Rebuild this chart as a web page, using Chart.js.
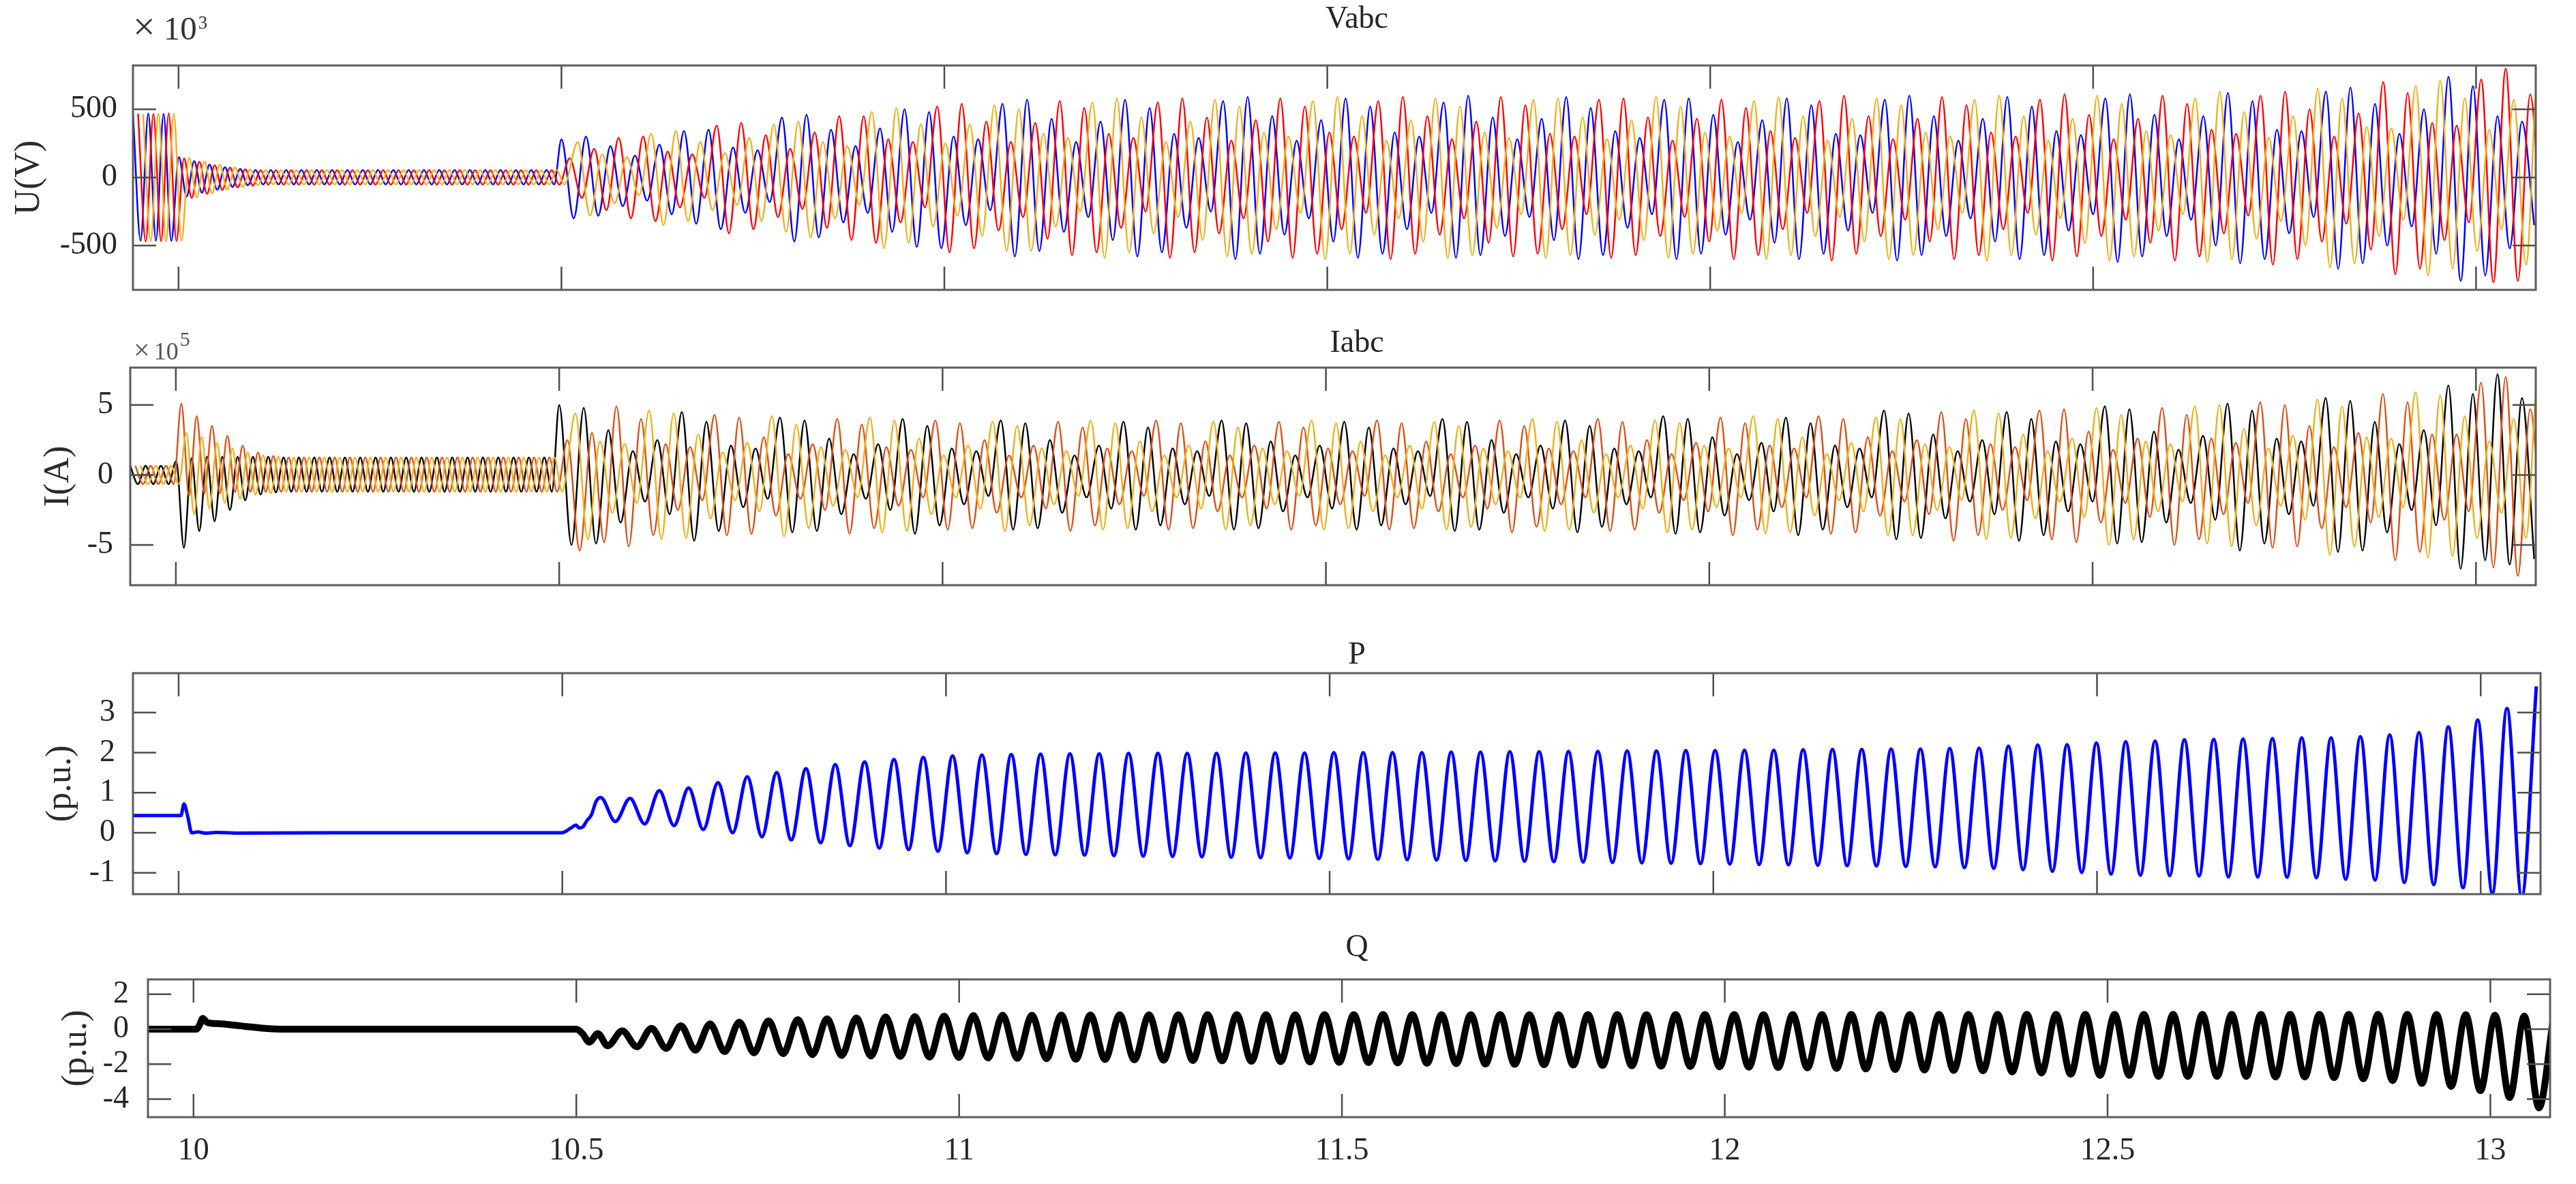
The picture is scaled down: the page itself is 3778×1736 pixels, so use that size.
<!DOCTYPE html>
<html>
<head>
<meta charset="utf-8">
<title>Vabc / Iabc / P / Q</title>
<script src="https://cdn.jsdelivr.net/npm/chart.js@4.4.1/dist/chart.umd.min.js"></script>
<style>
  html, body { margin: 0; padding: 0; background: #ffffff; }
  #wrap { position: relative; width: 3778px; height: 1736px; overflow: hidden; background: #ffffff; }
  #wrap canvas { position: absolute; left: 0; top: 0; }
</style>
</head>
<body>
<div id="wrap">
  <canvas id="chartV" width="3778" height="1736"></canvas>
  <canvas id="chartI" width="3778" height="1736"></canvas>
  <canvas id="chartP" width="3778" height="1736"></canvas>
  <canvas id="chartQ" width="3778" height="1736"></canvas>
</div>
<script>
"use strict";

// ---- axes ----
const xTicks = [10, 10.5, 11, 11.5, 12, 12.5, 13];
const xMin = 9.9405;
const xMax = 13.078;
const vTicks = [-500, 0, 500];
const iTicks = [-5, 0, 5];
const pTicks = [-1, 0, 1, 2, 3];
const qTicks = [-4, -2, 0, 2];

// ---- 50 Hz part, 9.94 s .. 10.5 s : peak, trough, peak, ... (10 ms apart) ----
const t50Start = 9.9405;
const half50 = 0.01;
const shift50 = [0, 0.0067, 0.0133];

// Vabc in kV (x10^3)
const vA50 = [470,-465, 470,-465, 468,-466, 150,-140, 120,-112, 95,-90, 75,-70, 62,-58,
  55,-52, 55,-52, 55,-52, 55,-52, 55,-52, 55,-52, 55,-52, 55,-52, 55,-52, 55,-52,
  55,-52, 55,-52, 55,-52, 55,-52, 55,-52, 55,-52, 55,-52, 55,-52, 55,-52, 55,-52];
const vB50 = [468,-470, 466,-468, 470,-466, 140,-150, 115,-120, 90,-92, 72,-72, 60,-60,
  54,-53, 54,-53, 54,-53, 54,-53, 54,-53, 54,-53, 54,-53, 54,-53, 54,-53, 54,-53,
  54,-53, 54,-53, 54,-53, 54,-53, 54,-53, 54,-53, 54,-53, 54,-53, 54,-53, 54,-53];
const vC50 = [466,-468, 470,-470, 468,-465, 145,-145, 118,-115, 92,-88, 74,-70, 60,-57,
  55,-52, 55,-52, 55,-52, 55,-52, 55,-52, 55,-52, 55,-52, 55,-52, 55,-52, 55,-52,
  55,-52, 55,-52, 55,-52, 55,-52, 55,-52, 55,-52, 55,-52, 55,-52, 55,-52, 55,-52];

// Iabc in x10^5 A
const iA50 = [0.65,-0.65, 0.65,-0.65, 0.65,-0.65, 1.0,-5.2, 1.2,-4.0, 1.3,-3.3, 1.3,-2.5, 1.3,-1.8, 1.3,-1.4, 1.3,-1.25,
  1.25,-1.2, 1.25,-1.2, 1.25,-1.2, 1.25,-1.2, 1.25,-1.2, 1.25,-1.2, 1.25,-1.2, 1.25,-1.2, 1.25,-1.2,
  1.25,-1.2, 1.25,-1.2, 1.25,-1.2, 1.25,-1.2, 1.25,-1.2, 1.25,-1.2, 1.25,-1.2, 1.25,-1.2, 1.25,-1.2];
const iB50 = [0.65,-0.65, 0.65,-0.65, 0.65,-0.65, 5.1,-1.5, 4.2,-1.3, 3.5,-1.3, 2.8,-1.2, 2.1,-1.2, 1.6,-1.2, 1.35,-1.2,
  1.25,-1.2, 1.25,-1.2, 1.25,-1.2, 1.25,-1.2, 1.25,-1.2, 1.25,-1.2, 1.25,-1.2, 1.25,-1.2, 1.25,-1.2,
  1.25,-1.2, 1.25,-1.2, 1.25,-1.2, 1.25,-1.2, 1.25,-1.2, 1.25,-1.2, 1.25,-1.2, 1.25,-1.2, 1.25,-1.2];
const iC50 = [0.65,-0.65, 0.65,-0.65, 0.65,-0.65, 3.0,-2.8, 2.7,-2.4, 2.3,-2.0, 1.9,-1.7, 1.6,-1.4, 1.4,-1.3, 1.3,-1.2,
  1.25,-1.2, 1.25,-1.2, 1.25,-1.2, 1.25,-1.2, 1.25,-1.2, 1.25,-1.2, 1.25,-1.2, 1.25,-1.2, 1.25,-1.2,
  1.25,-1.2, 1.25,-1.2, 1.25,-1.2, 1.25,-1.2, 1.25,-1.2, 1.25,-1.2, 1.25,-1.2, 1.25,-1.2, 1.25,-1.2];

// ---- oscillation after 10.5 s : peak, trough, ... (16 ms apart) ----
const tSubStart = 10.5;
const halfSub = 0.016;
const shiftSub = [0, 0.0107, 0.0213];

const vAsub = [280,-300, 300,-280, 230,-210, 160,-170, 240,-270, 340,-340, 350,-380, 220,-260, 200,-180,
  440,-470, 460,-440, 350,-330, 230,-260, 360,-400, 500,-510, 480,-520, 300,-350, 280,-240,
  540,-580, 570,-540, 430,-400, 260,-290, 410,-460, 570,-580, 510,-550, 320,-370, 290,-250,
  560,-600, 590,-560, 450,-420, 270,-300, 420,-470, 580,-590, 520,-560, 330,-380, 300,-260,
  550,-590, 600,-570, 440,-430, 280,-290, 430,-460, 590,-600, 510,-570, 340,-370, 290,-270,
  570,-600, 580,-560, 460,-420, 260,-310, 420,-480, 580,-600, 530,-560, 320,-390, 310,-260,
  570,-610, 600,-570, 450,-430, 270,-300, 430,-470, 590,-600, 520,-570,
  340,-390, 310,-270, 580,-620, 610,-580, 460,-430, 280,-310, 450,-500, 620,-630, 560,-600, 350,-410,
  340,-290, 630,-670, 660,-630, 540,-500, 320,-360, 500,-560, 740,-760, 670,-720, 450,-520, 410,-350];
const vBsub = [140,-150, 210,-240, 290,-300, 300,-320, 190,-220, 170,-150, 380,-410, 400,-380, 310,-290,
  210,-230, 330,-370, 450,-460, 450,-480, 280,-330, 260,-220, 520,-550, 540,-520, 410,-390,
  260,-290, 400,-450, 560,-570, 510,-550, 320,-370, 290,-250, 550,-590, 580,-550, 440,-410,
  270,-300, 420,-470, 580,-590, 520,-560, 330,-380, 300,-260, 560,-600, 590,-560, 450,-420,
  280,-300, 410,-480, 590,-580, 530,-560, 320,-380, 300,-270, 570,-590, 580,-570, 440,-430,
  270,-290, 430,-470, 570,-600, 510,-570, 340,-380, 290,-260, 560,-610, 600,-560, 450,-430,
  280,-310, 430,-470, 590,-600, 530,-570, 330,-380, 300,-260, 570,-610,
  610,-580, 460,-430, 280,-310, 430,-480, 600,-610, 540,-580, 350,-410, 320,-280, 600,-640, 630,-600,
  500,-470, 300,-340, 470,-530, 700,-710, 620,-670, 400,-460, 380,-330, 720,-770, 800,-760, 610,-570];
const vCsub = [260,-280, 170,-190, 150,-130, 320,-350, 340,-320, 260,-240, 180,-200, 290,-320, 390,-400,
  410,-440, 260,-300, 230,-200, 480,-520, 510,-480, 390,-360, 250,-280, 390,-430, 530,-540,
  500,-540, 320,-360, 290,-250, 550,-590, 580,-550, 440,-410, 260,-290, 410,-460, 570,-580,
  520,-560, 330,-380, 300,-260, 560,-600, 590,-560, 450,-420, 270,-300, 420,-470, 580,-590,
  520,-570, 330,-370, 290,-270, 570,-590, 580,-570, 440,-420, 280,-310, 420,-460, 590,-590,
  520,-560, 330,-390, 300,-260, 560,-600, 590,-570, 450,-430, 270,-290, 430,-470, 580,-600,
  530,-570, 330,-380, 300,-260, 570,-610, 600,-570, 450,-420, 270,-300,
  430,-480, 600,-610, 540,-580, 340,-390, 310,-270, 580,-620, 630,-600, 480,-450, 290,-320, 450,-500,
  650,-660, 580,-630, 370,-430, 360,-310, 670,-720, 710,-670, 580,-540, 350,-380, 570,-640, 790,-800];

const iAsub = [5.0,-5.0, 4.8,-4.9, 3.2,-3.4, 1.7,-1.9, 2.5,-2.8, 4.5,-4.7, 3.8,-4.0, 2.1,-2.3, 1.9,-1.7,
  4.1,-4.1, 3.9,-4.0, 2.6,-2.8, 1.5,-1.7, 2.2,-2.5, 4.0,-4.2, 3.5,-3.6, 1.9,-2.1, 1.7,-1.5,
  3.9,-3.9, 3.7,-3.8, 2.5,-2.7, 1.4,-1.6, 2.1,-2.4, 3.8,-3.9, 3.4,-3.6, 1.9,-2.1, 1.7,-1.5,
  3.9,-3.9, 3.7,-3.8, 2.4,-2.6, 1.4,-1.6, 2.1,-2.4, 3.8,-3.9, 3.4,-3.6, 1.9,-2.1, 1.7,-1.5,
  4.0,-4.0, 3.8,-3.9, 2.5,-2.7, 1.5,-1.6, 2.1,-2.4, 3.9,-4.1, 3.5,-3.7, 1.9,-2.1, 1.7,-1.6,
  4.2,-4.2, 4.0,-4.1, 2.7,-2.9, 1.5,-1.8, 2.3,-2.6, 4.1,-4.3, 3.7,-3.9, 2.1,-2.3, 1.9,-1.6,
  4.6,-4.6, 4.4,-4.5, 2.9,-3.1, 1.7,-1.9, 2.5,-2.8, 4.5,-4.7, 4.0,-4.3,
  2.4,-2.6, 2.2,-1.9, 4.9,-4.9, 4.7,-4.8, 3.1,-3.4, 1.8,-2.0, 2.8,-3.2, 5.1,-5.4, 4.6,-4.9, 2.6,-2.8,
  2.4,-2.2, 5.5,-5.5, 5.3,-5.4, 3.8,-4.1, 2.2,-2.5, 3.2,-3.6, 6.4,-6.7, 5.8,-6.1, 7.2,-6.4, 5.5,-6.0];
const iBsub = [2.5,-5.4, 3.0,-4.8, 4.9,-5.1, 4.0,-4.3, 2.2,-2.5, 2.0,-1.8, 4.3,-4.3, 4.1,-4.2, 2.7,-2.9,
  1.5,-1.7, 2.2,-2.5, 4.0,-4.2, 3.6,-3.8, 2.0,-2.2, 1.8,-1.6, 3.9,-3.9, 3.7,-3.8, 2.5,-2.7,
  1.4,-1.6, 2.1,-2.4, 3.8,-4.0, 3.4,-3.6, 1.9,-2.1, 1.7,-1.5, 3.9,-3.9, 3.7,-3.8, 2.4,-2.6,
  1.4,-1.6, 2.1,-2.4, 3.8,-3.9, 3.4,-3.6, 1.9,-2.1, 1.7,-1.5, 3.9,-3.9, 3.7,-3.8, 2.4,-2.6,
  1.5,-1.6, 2.1,-2.4, 3.9,-4.1, 3.5,-3.7, 1.9,-2.1, 1.7,-1.6, 4.0,-4.0, 3.8,-3.9, 2.5,-2.7,
  1.5,-1.8, 2.3,-2.6, 4.1,-4.3, 3.7,-3.9, 2.1,-2.3, 1.9,-1.6, 4.2,-4.2, 4.0,-4.1, 2.7,-2.9,
  1.7,-1.9, 2.5,-2.8, 4.5,-4.7, 4.0,-4.3, 2.2,-2.5, 2.0,-1.8, 4.6,-4.6,
  4.7,-4.8, 3.1,-3.4, 1.8,-2.0, 2.6,-3.0, 4.8,-5.0, 4.3,-4.6, 2.6,-2.8, 2.3,-2.0, 5.2,-5.2, 5.0,-5.1,
  3.5,-3.8, 2.0,-2.3, 3.0,-3.4, 5.8,-6.1, 5.2,-5.5, 2.9,-3.2, 2.9,-2.6, 6.6,-6.6, 7.0,-7.2, 4.7,-5.0];
const iCsub = [4.4,-4.6, 2.4,-2.7, 2.2,-2.0, 4.6,-4.6, 4.4,-4.5, 2.9,-3.1, 1.6,-1.8, 2.3,-2.6, 4.2,-4.4,
  3.6,-3.8, 2.0,-2.2, 1.8,-1.6, 4.1,-4.1, 3.9,-4.0, 2.6,-2.8, 1.4,-1.6, 2.1,-2.4, 3.8,-4.0,
  3.5,-3.6, 1.9,-2.1, 1.7,-1.5, 3.9,-3.9, 3.7,-3.8, 2.4,-2.6, 1.4,-1.6, 2.1,-2.4, 3.8,-3.9,
  3.4,-3.6, 1.9,-2.1, 1.7,-1.5, 3.9,-3.9, 3.7,-3.8, 2.4,-2.6, 1.4,-1.6, 2.1,-2.4, 3.8,-3.9,
  3.5,-3.7, 1.9,-2.1, 1.7,-1.6, 4.0,-4.0, 3.8,-3.9, 2.5,-2.7, 1.5,-1.6, 2.1,-2.4, 3.9,-4.1,
  3.7,-3.9, 2.1,-2.3, 1.9,-1.6, 4.2,-4.2, 4.0,-4.1, 2.7,-2.9, 1.5,-1.8, 2.3,-2.6, 4.1,-4.3,
  4.0,-4.3, 2.2,-2.5, 2.0,-1.8, 4.6,-4.6, 4.4,-4.5, 2.9,-3.1, 1.7,-1.9,
  2.6,-3.0, 4.8,-5.0, 4.3,-4.6, 2.4,-2.6, 2.2,-1.9, 4.9,-4.9, 5.0,-5.1, 3.3,-3.6, 1.9,-2.2, 2.8,-3.2,
  5.4,-5.7, 4.9,-5.1, 2.7,-3.0, 2.6,-2.3, 5.9,-5.9, 5.7,-5.8, 4.2,-4.5, 2.4,-2.7, 4.0,-4.5, 7.2,-7.6];

// ---- P (p.u.) ----
const pEarlyT = [9.94, 10.003, 10.007, 10.012, 10.017, 10.025, 10.035, 10.05, 10.08, 10.2, 10.35, 10.5,
  10.505, 10.512, 10.518, 10.522, 10.527, 10.532, 10.538, 10.544];
const pEarlyV = [0.43, 0.43, 0.72, 0.4, 0.0, 0.02, -0.01, 0.01, -0.01, 0.0, 0.0, 0.0,
  0.04, 0.13, 0.19, 0.12, 0.15, 0.3, 0.45, 0.78];
const pStart = 10.55;
const pPeriod = 0.03822;
const pPeaks = [0.88, 0.86, 1.05, 1.12, 1.25, 1.4, 1.5, 1.6, 1.7, 1.77, 1.83, 1.88, 1.92, 1.94,
  1.95, 1.96, 1.97, 1.97, 1.98, 1.98, 1.98, 1.98, 1.99, 1.99, 1.99, 2.0, 2.0, 2.0, 2.0, 2.01, 2.01,
  2.02, 2.02, 2.03, 2.03, 2.04, 2.04, 2.05, 2.05, 2.06, 2.06, 2.07, 2.08, 2.08, 2.09, 2.09, 2.10,
  2.11, 2.16, 2.19, 2.20, 2.24, 2.27, 2.29, 2.32, 2.33, 2.34, 2.35, 2.37, 2.37, 2.40, 2.44, 2.50,
  2.64, 2.81, 3.10, 3.65];
const pTroughs = [0.28, 0.22, 0.18, 0.08, 0.0, -0.1, -0.18, -0.25, -0.32, -0.38, -0.42, -0.46, -0.5, -0.52, -0.54,
  -0.55, -0.56, -0.57, -0.58, -0.59, -0.6, -0.61, -0.62, -0.63, -0.64, -0.65, -0.66, -0.67, -0.68, -0.69, -0.7,
  -0.71, -0.72, -0.73, -0.74, -0.75, -0.76, -0.77, -0.78, -0.79, -0.8, -0.81, -0.82, -0.83, -0.84, -0.85, -0.87,
  -0.89, -0.92, -0.96, -0.99, -1.03, -1.06, -1.07, -1.08, -1.10, -1.10, -1.11, -1.12, -1.16, -1.18, -1.24,
  -1.29, -1.37, -1.51, -1.6];

// ---- Q (p.u.) ----
const qEarlyT = [9.94, 10.004, 10.008, 10.012, 10.018, 10.03, 10.05, 10.07, 10.09, 10.12, 10.3, 10.5,
  10.508, 10.517, 10.528];
const qEarlyV = [0.0, 0.0, 0.25, 0.62, 0.38, 0.32, 0.25, 0.15, 0.06, 0.0, 0.0, 0.0,
  -0.25, -0.74, -0.25];
const qStart = 10.56;
const qPeriod = 0.03822;
const qPeaks = [-0.1, 0.05, 0.2, 0.3, 0.4, 0.48, 0.55, 0.6, 0.65, 0.7, 0.72, 0.75, 0.78, 0.8,
  0.8, 0.81, 0.81, 0.82, 0.82, 0.82, 0.83, 0.83, 0.83, 0.82, 0.83, 0.83, 0.84, 0.83, 0.83, 0.83,
  0.84, 0.83, 0.83, 0.84, 0.84, 0.83, 0.84, 0.84, 0.84, 0.83, 0.84, 0.84, 0.85, 0.84, 0.84, 0.85,
  0.85, 0.85, 0.85, 0.85, 0.85, 0.85, 0.85, 0.85, 0.85, 0.85, 0.85, 0.85, 0.85, 0.85, 0.85, 0.85,
  0.84, 0.83, 0.8, 0.75, 0.7];
const qTroughs = [-0.95, -1.0, -1.1, -1.2, -1.28, -1.35, -1.4, -1.45, -1.5, -1.53, -1.56, -1.6, -1.62, -1.65,
  -1.67, -1.69, -1.71, -1.73, -1.75, -1.77, -1.79, -1.81, -1.83, -1.85, -1.87, -1.89, -1.91, -1.93, -1.95,
  -1.97, -1.99, -2.01, -2.03, -2.05, -2.07, -2.09, -2.11, -2.13, -2.15, -2.17, -2.19, -2.21, -2.24, -2.27,
  -2.3, -2.33, -2.36,
  -2.38, -2.44, -2.5, -2.57, -2.64, -2.64, -2.7, -2.7, -2.7, -2.7, -2.73, -2.73, -2.77, -2.83, -2.94,
  -3.1, -3.27, -3.52, -3.91, -4.5];

// ---- helpers ----
const serif = "'Liberation Serif', 'Times New Roman', Times, serif";

function alternating(start, half, values) {
    return values.map((v, i) => ({x: start + i * half, y: v}));
}

function phase(pre, sub, k) {
    return alternating(t50Start + shift50[k], half50, pre)
        .concat(alternating(tSubStart + shiftSub[k], halfSub, sub));
}

function pSeries() {
    let pts = pEarlyT.map((t, i) => ({x: t, y: pEarlyV[i]}));
    for (let k = 0; k < pPeaks.length; k++) {
        pts.push({x: pStart + k * pPeriod, y: pPeaks[k]});
        if (k < pTroughs.length) pts.push({x: pStart + (k + 0.5) * pPeriod, y: pTroughs[k]});
    }
    return pts;
}

function qSeries() {
    let pts = qEarlyT.map((t, i) => ({x: t, y: qEarlyV[i]}));
    for (let k = 0; k < qPeaks.length; k++) {
        pts.push({x: qStart + (k - 0.5) * qPeriod, y: qTroughs[k]});
        pts.push({x: qStart + k * qPeriod, y: qPeaks[k]});
    }
    return pts;
}

function line(data, color, width) {
    return {
        data: data,
        borderColor: color,
        borderWidth: width,
        pointRadius: 0,
        fill: false,
        cubicInterpolationMode: 'monotone',
        capBezierPoints: false,
        clip: 0
    };
}

// box, inward ticks on all four sides, panel title and the x10^n note
const framePlugin = {
    id: 'frame',
    afterDatasetsDraw(chart, args, opts) {
        const ctx = chart.ctx;
        const a = chart.chartArea;
        const xs = chart.scales.x;
        const ys = chart.scales.y;
        ctx.save();
        ctx.lineWidth = 2.5;
        ctx.strokeStyle = '#4d4d4d';
        ctx.beginPath();
        for (const t of xs.ticks) {
            const px = xs.getPixelForValue(t.value);
            ctx.moveTo(px, a.bottom);
            ctx.lineTo(px, a.bottom - 34);
            ctx.moveTo(px, a.top);
            ctx.lineTo(px, a.top + 34);
        }
        for (const t of ys.ticks) {
            const py = ys.getPixelForValue(t.value);
            ctx.moveTo(a.left, py);
            ctx.lineTo(a.left + 34, py);
            ctx.moveTo(a.right, py);
            ctx.lineTo(a.right - 34, py);
        }
        ctx.stroke();
        ctx.lineWidth = 3;
        ctx.strokeStyle = '#5c5c5c';
        ctx.strokeRect(a.left, a.top, a.right - a.left, a.bottom - a.top);

        ctx.fillStyle = '#262626';
        ctx.textAlign = 'center';
        ctx.textBaseline = 'middle';
        ctx.font = '46px ' + serif;
        ctx.fillText(opts.title, opts.titleX, opts.titleY);

        if (opts.mult) {
            const m = opts.mult;
            ctx.fillStyle = m.color;
            ctx.textAlign = 'left';
            ctx.textBaseline = 'alphabetic';
            ctx.font = m.crossSize + 'px ' + serif;
            ctx.fillText('×', m.x, m.base);
            let x = m.x + ctx.measureText('×').width + m.gap;
            ctx.font = m.size + 'px ' + serif;
            ctx.fillText('10', x, m.base);
            x += ctx.measureText('10').width + 2;
            ctx.font = m.supSize + 'px ' + serif;
            ctx.fillText(m.sup, x, m.supBase);
        }
        ctx.restore();
    }
};

function makeChart(id, cfg) {
    const ctx = document.getElementById(id).getContext('2d');
    return new Chart(ctx, {
        type: 'line',
        data: {datasets: cfg.datasets},
        options: {
            responsive: false,
            animation: false,
            devicePixelRatio: 1,
            events: [],
            layout: {
                padding: {left: 0, right: 3778 - cfg.R, top: cfg.T, bottom: 0}
            },
            plugins: {
                legend: {display: false},
                tooltip: {enabled: false},
                title: {display: false},
                frame: {title: cfg.title, titleX: 1990, titleY: cfg.titleY, mult: cfg.mult || null}
            },
            scales: {
                x: {
                    type: 'linear',
                    min: xMin,
                    max: xMax,
                    grid: {display: false, drawTicks: false},
                    border: {display: false},
                    afterBuildTicks: s => { s.ticks = xTicks.map(v => ({value: v})); },
                    afterFit: s => { s.height = 1736 - cfg.B; },
                    ticks: {
                        display: cfg.showX,
                        padding: 22,
                        maxRotation: 0,
                        autoSkip: false,
                        color: '#262626',
                        font: {family: serif, size: 46},
                        callback: v => String(v)
                    }
                },
                y: {
                    type: 'linear',
                    min: cfg.yMin,
                    max: cfg.yMax,
                    grid: {display: false, drawTicks: false},
                    border: {display: false},
                    afterBuildTicks: s => { s.ticks = cfg.yTicks.map(v => ({value: v})); },
                    afterFit: s => { s.width = cfg.L; },
                    ticks: {
                        padding: cfg.tickPad,
                        autoSkip: false,
                        color: '#262626',
                        font: {family: serif, size: 46},
                        callback: v => String(v)
                    },
                    title: {
                        display: true,
                        text: cfg.yLabel,
                        color: '#2b2b2b',
                        font: {family: serif, size: 52, lineHeight: 1.2},
                        padding: {top: cfg.labelPad, bottom: 0}
                    }
                }
            }
        },
        plugins: [framePlugin]
    });
}

makeChart('chartV', {
    L: 195, R: 3719, T: 96, B: 425, titleY: 29,
    title: 'Vabc', yLabel: 'U(V)', labelPad: 12, tickPad: 23,
    yMin: -825, yMax: 822, yTicks: vTicks, showX: false,
    mult: {x: 195, base: 58, crossSize: 58, gap: 12, size: 49, sup: '3', supBase: 42, supSize: 27, color: '#333333'},
    datasets: [
        line(phase(vC50, vCsub, 2), '#edb120', 2.5),
        line(phase(vB50, vBsub, 1), '#ff0000', 2.5),
        line(phase(vA50, vAsub, 0), '#0000ff', 2.5)
    ]
});

makeChart('chartI', {
    L: 191, R: 3719, T: 539, B: 858, titleY: 504,
    title: 'Iabc', yLabel: 'I(A)', labelPad: 55, tickPad: 25,
    yMin: -7.87, yMax: 7.67, yTicks: iTicks, showX: false,
    mult: {x: 196, base: 527, crossSize: 42, gap: 6, size: 36, sup: '5', supBase: 507, supSize: 30, color: '#555555'},
    datasets: [
        line(phase(iC50, iCsub, 2), '#edb120', 2.5),
        line(phase(iB50, iBsub, 1), '#d95319', 2.5),
        line(phase(iA50, iAsub, 0), '#000000', 2.5)
    ]
});

makeChart('chartP', {
    L: 195, R: 3726, T: 987, B: 1311, titleY: 961,
    title: 'P', yLabel: '(p.u.)', labelPad: 58, tickPad: 26,
    yMin: -1.53, yMax: 3.98, yTicks: pTicks, showX: false,
    datasets: [line(pSeries(), '#0000ff', 5)]
});

makeChart('chartQ', {
    L: 217, R: 3740, T: 1436, B: 1638, titleY: 1390,
    title: 'Q', yLabel: '(p.u.)', labelPad: 81, tickPad: 28,
    yMin: -5.03, yMax: 2.85, yTicks: qTicks, showX: true,
    datasets: [line(qSeries(), '#000000', 10)]
});
</script>
</body>
</html>
